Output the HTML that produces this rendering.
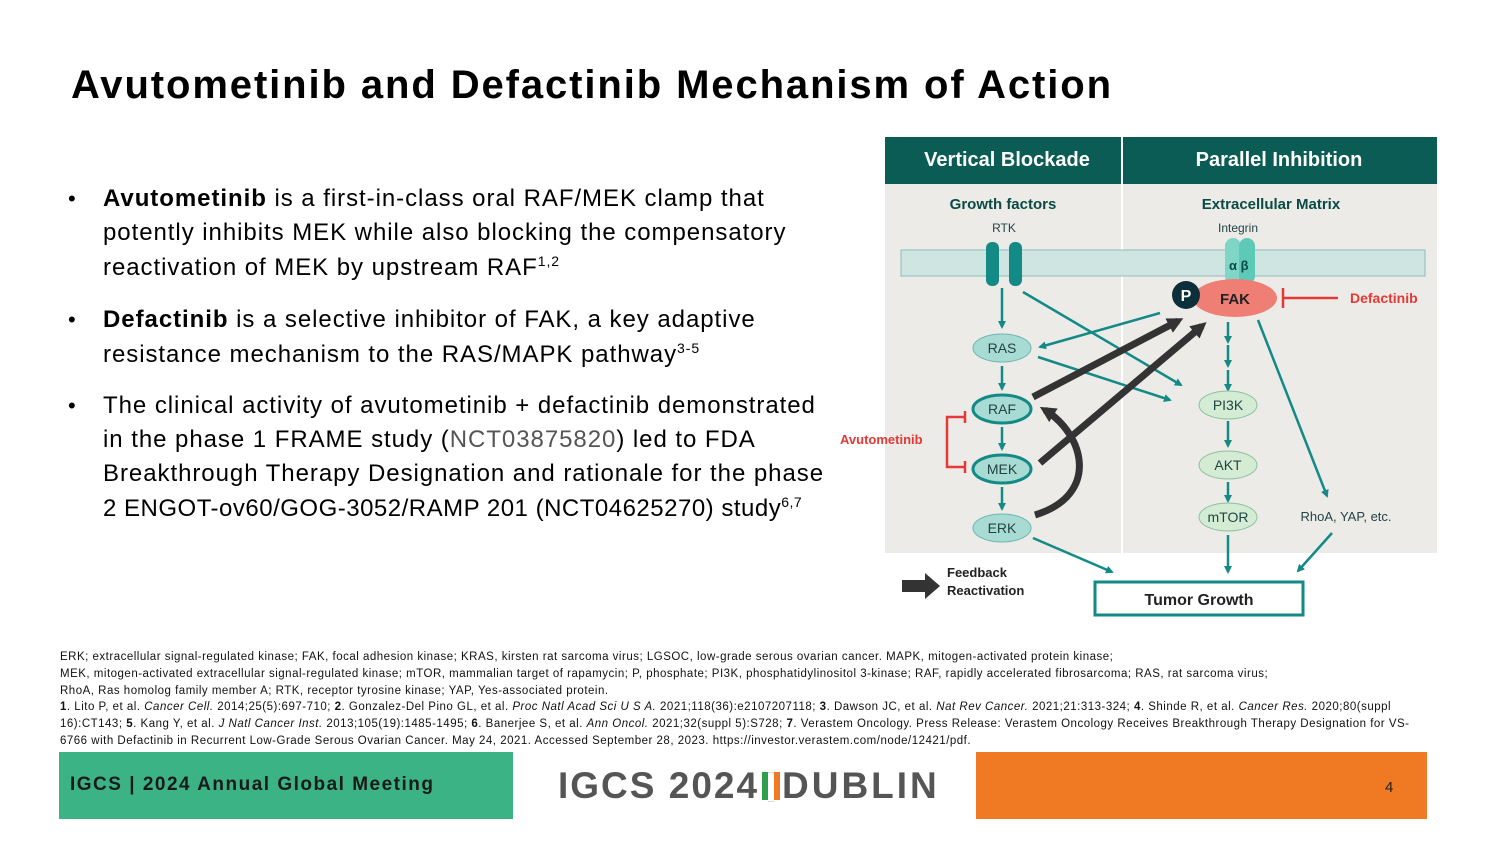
<!DOCTYPE html>
<html><head><meta charset="utf-8"><style>
body{margin:0;width:1500px;height:844px;background:#fff;position:relative;overflow:hidden;font-family:"Liberation Sans",sans-serif}
.a{position:absolute;white-space:nowrap}
.t{font-size:40px;font-weight:bold;left:71px;top:63px;color:#000;letter-spacing:1.9px}
.b{font-size:24px;color:#000;left:103px;letter-spacing:0.95px}
.dot{left:68px;font-size:22px}
.f{font-size:11.5px;left:60px;color:#111;letter-spacing:0.5px}
</style></head><body>
<div class="a t">Avutometinib and Defactinib Mechanism of Action</div>
<div class="a dot" style="top:186px">•</div>
<div class="a b" style="top:185px"><b>Avutometinib</b> is a first-in-class oral RAF/MEK clamp that</div>
<div class="a b" style="top:219px">potently inhibits MEK while also blocking the compensatory</div>
<div class="a b" style="top:253px">reactivation of MEK by upstream RAF<sup style="font-size:14px">1,2</sup></div>
<div class="a dot" style="top:307px">•</div>
<div class="a b" style="top:306px"><b>Defactinib</b> is a selective inhibitor of FAK, a key adaptive</div>
<div class="a b" style="top:340px">resistance mechanism to the RAS/MAPK pathway<sup style="font-size:14px">3-5</sup></div>
<div class="a dot" style="top:393px">•</div>
<div class="a b" style="top:392px">The clinical activity of avutometinib + defactinib demonstrated</div>
<div class="a b" style="top:426px">in the phase 1 FRAME study (<span style="color:#555">NCT03875820</span>) led to FDA</div>
<div class="a b" style="top:460px">Breakthrough Therapy Designation and rationale for the phase</div>
<div class="a b" style="top:494px;letter-spacing:0.5px">2 ENGOT-ov60/GOG-3052/RAMP 201 (NCT04625270) study<sup style="font-size:14px">6,7</sup></div>

<svg class="a" style="left:0;top:0" width="1500" height="844" viewBox="0 0 1500 844">
<defs>
<marker id="m" markerWidth="8" markerHeight="8" refX="6" refY="4" orient="auto" markerUnits="userSpaceOnUse" viewBox="0 0 8 8"><path d="M0,0 L8,4 L0,8 Z" fill="#138a85"/></marker>
<marker id="k" markerWidth="16" markerHeight="16" refX="10" refY="8" orient="auto" markerUnits="userSpaceOnUse" viewBox="0 0 16 16"><path d="M0,0 L16,8 L0,16 Z" fill="#333"/></marker>
</defs>
<rect x="885" y="137" width="552" height="416" fill="#ecebe8"/>
<rect x="885" y="137" width="236" height="47" fill="#0b5c55"/>
<rect x="1123" y="137" width="314" height="47" fill="#0b5c55"/>
<line x1="1122" y1="137" x2="1122" y2="553" stroke="#fff" stroke-width="2"/>
<g font-family="Liberation Sans" font-weight="bold" text-anchor="middle">
<text x="1007" y="166" fill="#fff" font-size="20">Vertical Blockade</text>
<text x="1279" y="166" fill="#fff" font-size="20">Parallel Inhibition</text>
<text x="1003" y="209" fill="#0b4a45" font-size="15">Growth factors</text>
<text x="1271" y="209" fill="#0b4a45" font-size="15">Extracellular Matrix</text>
</g>
<g font-family="Liberation Sans" font-size="12" fill="#244" text-anchor="middle">
<text x="1004" y="232">RTK</text><text x="1238" y="232">Integrin</text>
</g>
<rect x="901" y="250" width="524" height="26" fill="#cfe5e2" stroke="#8cbdb8"/>
<rect x="986" y="242" width="13" height="44" rx="6" fill="#138a85"/>
<rect x="1009" y="242" width="13" height="44" rx="6" fill="#138a85"/>
<rect x="1225" y="238" width="16" height="46" rx="8" fill="#7fd6c6"/>
<rect x="1239" y="238" width="16" height="46" rx="8" fill="#5fc9b7"/>
<text x="1229" y="270" font-size="13" fill="#0b4a45" font-weight="bold">α β</text>
<g stroke="#138a85" stroke-width="2.5" fill="none" marker-end="url(#m)">
<line x1="1002" y1="288" x2="1002" y2="327"/>
<line x1="1023" y1="292" x2="1181" y2="385"/>
<line x1="1160" y1="313" x2="1040" y2="347"/>
<line x1="1038" y1="357" x2="1170" y2="400"/>
<line x1="1002" y1="366" x2="1002" y2="389"/>
<line x1="1002" y1="427" x2="1002" y2="449"/>
<line x1="1002" y1="487" x2="1002" y2="509"/>
<line x1="1228" y1="322" x2="1228" y2="342"/>
<line x1="1228" y1="345" x2="1228" y2="366"/>
<line x1="1228" y1="370" x2="1228" y2="390"/>
<line x1="1228" y1="421" x2="1228" y2="446"/>
<line x1="1228" y1="482" x2="1228" y2="501"/>
<line x1="1228" y1="535" x2="1228" y2="572"/>
<line x1="1258" y1="320" x2="1327" y2="496"/>
<line x1="1332" y1="533" x2="1298" y2="571"/>
<line x1="1033" y1="538" x2="1112" y2="572"/>
</g>
<g stroke="#333" stroke-width="7" fill="none" marker-end="url(#k)">
<line x1="1033" y1="397" x2="1178" y2="321"/>
<line x1="1040" y1="463" x2="1202" y2="326"/>
<path d="M1035,515 C1100,495 1085,435 1045,410"/>
</g>
<ellipse cx="1235" cy="298" rx="42" ry="19" fill="#ef7e74"/>
<text x="1235" y="304" font-size="15" font-weight="bold" text-anchor="middle" fill="#222">FAK</text>
<circle cx="1186" cy="295" r="14" fill="#0d2f3a"/>
<text x="1186" y="301" font-size="16" font-weight="bold" text-anchor="middle" fill="#fff">P</text>
<g stroke="#e53935" stroke-width="2.5" fill="none">
<line x1="1338" y1="298" x2="1283" y2="298"/><line x1="1283" y1="288" x2="1283" y2="308"/>
<path d="M965,417 H947 V467 H965"/><line x1="965" y1="411" x2="965" y2="423"/><line x1="965" y1="461" x2="965" y2="473"/>
</g>
<text x="1350" y="303" font-size="14" font-weight="bold" fill="#e53935">Defactinib</text>
<text x="840" y="444" font-size="13" font-weight="bold" fill="#e53935">Avutometinib</text>
<g font-size="14" text-anchor="middle" fill="#244">
<ellipse cx="1002" cy="348" rx="29" ry="14" fill="#a9dbd5" stroke="#6ab7ae"/><text x="1002" y="353">RAS</text>
<ellipse cx="1002" cy="409" rx="29" ry="14" fill="#a9dbd5" stroke="#138a85" stroke-width="3"/><text x="1002" y="414">RAF</text>
<ellipse cx="1002" cy="469" rx="29" ry="14" fill="#a9dbd5" stroke="#138a85" stroke-width="3"/><text x="1002" y="474">MEK</text>
<ellipse cx="1002" cy="528" rx="29" ry="14" fill="#a9dbd5" stroke="#6ab7ae"/><text x="1002" y="533">ERK</text>
<ellipse cx="1228" cy="405" rx="29" ry="14" fill="#d3ecd3" stroke="#8cc0a0"/><text x="1228" y="410">PI3K</text>
<ellipse cx="1228" cy="465" rx="29" ry="14" fill="#d3ecd3" stroke="#8cc0a0"/><text x="1228" y="470">AKT</text>
<ellipse cx="1228" cy="517" rx="29" ry="14" fill="#d3ecd3" stroke="#8cc0a0"/><text x="1228" y="522">mTOR</text>
<text x="1346" y="521" font-size="13">RhoA, YAP, etc.</text>
</g>
<rect x="1095" y="582" width="208" height="33" fill="#fff" stroke="#138a85" stroke-width="3"/>
<text x="1199" y="605" font-size="16" font-weight="bold" text-anchor="middle" fill="#222">Tumor Growth</text>
<path d="M902,580 H925 V573 L940,586 L925,599 V592 H902 Z" fill="#333"/>
<text x="947" y="577" font-size="13" font-weight="bold" fill="#222">Feedback</text>
<text x="947" y="595" font-size="13" font-weight="bold" fill="#222">Reactivation</text>
</svg>

<div class="a f" style="top:651px">ERK; extracellular signal-regulated kinase; FAK, focal adhesion kinase; KRAS, kirsten rat sarcoma virus; LGSOC, low-grade serous ovarian cancer. MAPK, mitogen-activated protein kinase;</div>
<div class="a f" style="top:668px">MEK, mitogen-activated extracellular signal-regulated kinase; mTOR, mammalian target of rapamycin; P, phosphate; PI3K, phosphatidylinositol 3-kinase; RAF, rapidly accelerated fibrosarcoma; RAS, rat sarcoma virus;</div>
<div class="a f" style="top:685px">RhoA, Ras homolog family member A; RTK, receptor tyrosine kinase; YAP, Yes-associated protein.</div>
<div class="a f" style="top:701px"><b>1</b>. Lito P, et al. <i>Cancer Cell.</i> 2014;25(5):697-710; <b>2</b>. Gonzalez-Del Pino GL, et al. <i>Proc Natl Acad Sci U S A.</i> 2021;118(36):e2107207118; <b>3</b>. Dawson JC, et al. <i>Nat Rev Cancer.</i> 2021;21:313-324; <b>4</b>. Shinde R, et al. <i>Cancer Res.</i> 2020;80(suppl</div>
<div class="a f" style="top:718px">16):CT143; <b>5</b>. Kang Y, et al. <i>J Natl Cancer Inst.</i> 2013;105(19):1485-1495; <b>6</b>. Banerjee S, et al. <i>Ann Oncol.</i> 2021;32(suppl 5):S728; <b>7</b>. Verastem Oncology. Press Release: Verastem Oncology Receives Breakthrough Therapy Designation for VS-</div>
<div class="a f" style="top:735px">6766 with Defactinib in Recurrent Low-Grade Serous Ovarian Cancer. May 24, 2021. Accessed September 28, 2023. https://investor.verastem.com/node/12421/pdf.</div>

<div class="a" style="left:59px;top:752px;width:454px;height:67px;background:#3bb385"></div>
<div class="a" style="left:70px;top:774px;font-size:19px;font-weight:bold;color:#1a1a1a;letter-spacing:1.5px">IGCS | 2024 Annual Global Meeting</div>
<div class="a" style="left:976px;top:752px;width:451px;height:67px;background:#f07a23"></div>
<div class="a" style="left:1385px;top:779px;font-size:15px;color:#222">4</div>
<div class="a" style="left:558px;top:765px;font-size:37px;font-weight:bold;color:#555;letter-spacing:2px">IGCS 2024</div>
<div class="a" style="left:762px;top:772px;width:6px;height:28px;background:#2e9e4f"></div>
<div class="a" style="left:768px;top:772px;width:6px;height:28px;background:#fff;border-top:1px solid #ddd;border-bottom:1px solid #ddd"></div>
<div class="a" style="left:774px;top:772px;width:6px;height:28px;background:#f07a23"></div>
<div class="a" style="left:782px;top:765px;font-size:37px;font-weight:bold;color:#555;letter-spacing:3px">DUBLIN</div>
</body></html>
